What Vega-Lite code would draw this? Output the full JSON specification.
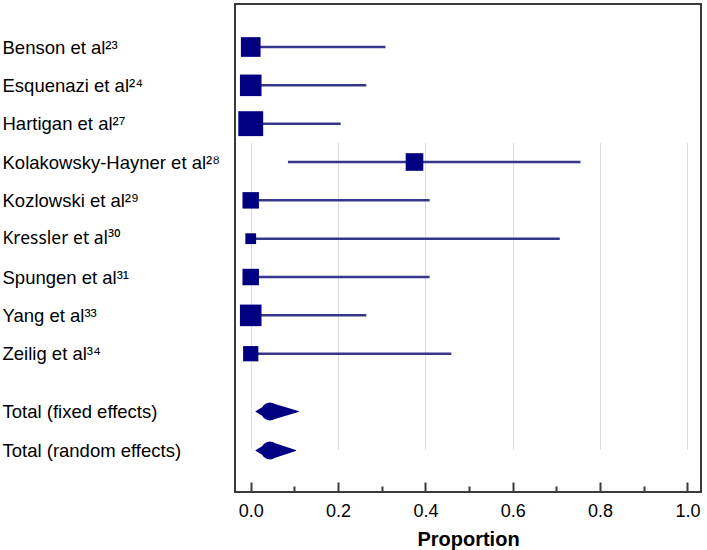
{
  "$schema": "https://vega.github.io/schema/vega-lite/v6.json",
  "width": 466,
  "height": 488,
  "autosize": {"type": "none"},
  "padding": {"left": 235, "top": 4, "right": 6, "bottom": 58},
  "background": "white",
  "config": {
    "font": "Liberation Sans",
    "view": {"stroke": "#3a3a3a", "strokeWidth": 2}
  },
  "datasets": {
    "studies": [
      {"study": "Benson et al²³", "estimate": 0, "lower": 0, "upper": 0.3085, "weight": 12.35},
      {"study": "Esquenazi  et al²⁴", "estimate": 0, "lower": 0, "upper": 0.2646, "weight": 14.81},
      {"study": "Hartigan et al²⁷", "estimate": 0, "lower": 0, "upper": 0.2059, "weight": 19.75},
      {"study": "Kolakowsky-Hayner et al²⁸", "estimate": 0.375, "lower": 0.0852, "upper": 0.7551, "weight": 9.88},
      {"study": "Kozlowski et al²⁹", "estimate": 0, "lower": 0, "upper": 0.4096, "weight": 8.64},
      {"study": "Kressler et al³⁰", "estimate": 0, "lower": 0, "upper": 0.7076, "weight": 3.7},
      {"study": "Spungen et al³¹", "estimate": 0, "lower": 0, "upper": 0.4096, "weight": 8.64},
      {"study": "Yang et al³³", "estimate": 0, "lower": 0, "upper": 0.2646, "weight": 14.81},
      {"study": "Zeilig et al³⁴", "estimate": 0, "lower": 0, "upper": 0.4593, "weight": 7.41}
    ],
    "totals": [
      {"label": "Total (fixed effects)", "lower": 0.012, "estimate": 0.044, "upper": 0.109},
      {"label": "Total (random effects)", "lower": 0.012, "estimate": 0.044, "upper": 0.103}
    ]
  },
  "resolve": {"scale": {"y": "independent", "size": "independent"}, "axis": {"y": "independent"}},
  "layer": [
    {
      "data": {"name": "studies"},
      "encoding": {
        "y": {
          "field": "study", "type": "nominal", "sort": null,
          "scale": {"type": "point", "range": [43, 349.7], "padding": 0},
          "axis": {"title": null, "orient": "left", "domain": false, "ticks": false, "grid": false, "labelAlign": "left", "labelBaseline": "middle", "labelPadding": 233,
            "labelFont": {"condition": {"test": "indexof(datum.value, 'Kressler') >= 0", "value": "Noto Sans"}, "value": "Liberation Sans"},
            "labelFontSize": {"condition": {"test": "indexof(datum.value, 'Kressler') >= 0", "value": 17.5}, "value": 18.5},
            "labelColor": "black", "labelLimit": 300}
        }
      },
      "layer": [
        {
          "mark": {"type": "rule", "color": "#36368a", "strokeWidth": 2.5},
          "encoding": {
            "x": {
              "field": "lower", "type": "quantitative",
              "scale": {"domain": [-0.036, 1.031], "nice": false, "zero": false},
              "axis": {
                "values": [0, 0.1, 0.2, 0.3, 0.4, 0.5, 0.6, 0.7, 0.8, 0.9, 1.0],
                "labelExpr": "round(datum.value*10) % 2 == 0 ? format(datum.value, '.1f') : ''",
                "labelFontSize": 18, "labelColor": "black", "labelPadding": 20,
                "title": "Proportion", "titleFontSize": 20, "titleFontWeight": "bold", "titleColor": "black", "titlePadding": 9,
                "domain": false, "tickColor": "#3a3a3a", "tickWidth": 2,
                "tickSize": {"condition": {"test": "round(datum.value*10) % 2 == 0", "value": -10}, "value": -6},
                "grid": true, "gridColor": "#dcdcdc",
                "gridOpacity": {"condition": {"test": "round(datum.value*10) % 2 == 0", "value": 1}, "value": 0}
              }
            },
            "x2": {"field": "upper"}
          }
        },
        {
          "mark": {"type": "square", "filled": true, "color": "#000080", "opacity": 1},
          "encoding": {
            "x": {"field": "estimate", "type": "quantitative"},
            "size": {"field": "weight", "type": "quantitative", "scale": {"domain": [0, 20], "range": [0, 628]}, "legend": null}
          }
        }
      ]
    },
    {
      "data": {"name": "totals"},
      "transform": [{"fold": ["lower", "estimate", "upper"], "as": ["key", "value"]}],
      "mark": {"type": "trail", "color": "#000080"},
      "encoding": {
        "y": {
          "field": "label", "type": "nominal", "sort": null,
          "scale": {"type": "point", "range": [407.5, 446.5], "padding": 0},
          "axis": {"title": null, "orient": "left", "domain": false, "ticks": false, "grid": false, "labelAlign": "left", "labelBaseline": "middle", "labelPadding": 233, "labelFont": "Liberation Sans", "labelFontSize": 18.5, "labelColor": "black", "labelLimit": 300}
        },
        "x": {"field": "value", "type": "quantitative"},
        "detail": {"field": "label"},
        "size": {"condition": {"test": "datum.key === 'estimate'", "value": 18}, "value": 0}
      }
    }
  ]
}
